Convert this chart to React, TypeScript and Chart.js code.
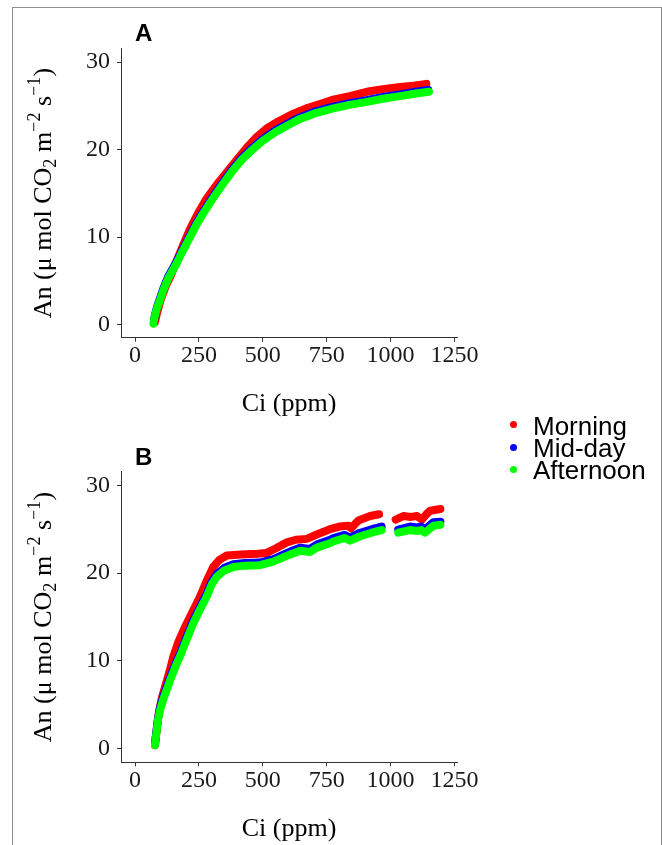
import React, { useEffect, useRef } from "react";
import { Chart, registerables } from "chart.js";

Chart.register(...registerables);

// ---- axis ticks ----
const xTicks = [0, 250, 500, 750, 1000, 1250];
const yTicks = [0, 10, 20, 30];

// ---- legend ----
const seriesNames = ["Morning", "Mid-day", "Afternoon"];
const seriesColors = ["#ff0000", "#0000ff", "#00ff00"];

// ---- Panel A ----
const aCiMorning = [78, 85, 100, 120, 140, 163, 190, 215, 250, 280, 320, 359, 400, 437, 475, 515, 560, 620, 670, 724, 776, 840, 907, 970, 1037, 1090, 1140];
const aAnMorning = [0.3, 1.2, 2.8, 4.4, 5.6, 7.3, 9.2, 10.9, 12.9, 14.4, 16.0, 17.4, 18.9, 20.2, 21.4, 22.4, 23.2, 24.1, 24.7, 25.2, 25.7, 26.1, 26.6, 26.9, 27.15, 27.3, 27.5];

const aCiMidday = [74, 77, 86, 100, 111, 130, 163, 190, 215, 240, 267, 300, 340, 380, 420, 460, 500, 550, 600, 646, 700, 776, 840, 907, 970, 1037, 1100, 1148];
const aAnMidday = [0.3, 1.0, 2.0, 3.2, 4.15, 5.5, 7.2, 8.8, 10.2, 11.6, 12.9, 14.4, 16.1, 17.7, 19.1, 20.2, 21.2, 22.2, 23.0, 23.7, 24.3, 24.9, 25.3, 25.65, 26.0, 26.3, 26.6, 26.8];

const aCiAfternoon = [72, 76, 85, 100, 111, 130, 163, 190, 215, 240, 267, 300, 340, 380, 420, 460, 500, 550, 600, 646, 700, 776, 840, 907, 970, 1037, 1100, 1150];
const aAnAfternoon = [0.1, 0.8, 1.8, 3.0, 3.96, 5.3, 7.0, 8.6, 10.0, 11.4, 12.7, 14.2, 15.9, 17.5, 18.9, 20.0, 21.0, 22.0, 22.8, 23.5, 24.1, 24.7, 25.1, 25.45, 25.8, 26.1, 26.4, 26.6];

// ---- Panel B ----
const bCiMorning = [78, 82, 88, 95, 105, 120, 135, 150, 170, 196, 225, 254, 280, 306, 330, 359, 400, 437, 480, 515, 550, 594, 630, 672, 711, 763, 800, 835, 845, 874, 920, 955, 985, 1020, 1050, 1080, 1103, 1122, 1140, 1155, 1195];
const bAnMorning = [0.4, 1.5, 3.0, 4.4, 5.8, 7.3, 8.8, 10.5, 12.2, 13.9, 15.6, 17.3, 19.1, 20.7, 21.5, 22.0, 22.1, 22.15, 22.2, 22.3, 22.8, 23.5, 23.8, 23.9, 24.4, 25.0, 25.3, 25.4, 25.1, 26.0, 26.5, 26.7, null, 26.1, 26.5, 26.4, 26.5, 26.1, 26.7, 27.1, 27.3];

const bCiMidday = [78, 81, 85, 90, 98, 110, 124, 140, 163, 176, 196, 228, 255, 280, 300, 320, 350, 385, 430, 489, 541, 580, 620, 646, 685, 711, 763, 776, 820, 841, 881, 926, 965, 995, 1030, 1076, 1103, 1120, 1135, 1168, 1195];
const bAnMidday = [0.5, 1.4, 2.3, 3.5, 4.7, 5.9, 7.0, 8.3, 10.0, 10.8, 12.3, 14.6, 16.2, 17.6, 19.0, 19.9, 20.6, 21.0, 21.15, 21.2, 21.6, 22.1, 22.6, 22.9, 22.75, 23.25, 23.8, 24.0, 24.35, 24.05, 24.6, 25.0, 25.3, null, 24.95, 25.3, 25.2, 25.3, 25.0, 25.8, 25.85];

const bCiAfternoon = [78, 81, 85, 90, 98, 110, 124, 140, 163, 176, 196, 228, 255, 280, 300, 320, 350, 385, 430, 489, 541, 580, 620, 646, 685, 711, 763, 776, 820, 841, 881, 926, 965, 995, 1030, 1076, 1103, 1120, 1135, 1168, 1195];
const bAnAfternoon = [0.4, 1.2, 2.1, 3.3, 4.4, 5.6, 6.7, 8.0, 9.7, 10.5, 12.0, 14.3, 15.9, 17.3, 18.7, 19.6, 20.3, 20.7, 20.85, 20.9, 21.3, 21.8, 22.25, 22.55, 22.4, 22.9, 23.4, 23.6, 24.0, 23.7, 24.2, 24.6, 24.9, null, 24.6, 24.9, 24.8, 24.9, 24.6, 25.4, 25.5];

const SERIF = "'Liberation Serif', 'Times New Roman', serif";
const SANS = "'Liberation Sans', Arial, sans-serif";

type PanelProps = {
  top: number;
  height: number;
  chartTop: number;
  chartBottom: number;
  yMin: number;
  yMax: number;
  ci: number[][];
  an: (number | null)[][];
};

function Panel({ top, height, chartTop, chartBottom, yMin, yMax, ci, an }: PanelProps) {
  const ref = useRef<HTMLCanvasElement | null>(null);
  useEffect(() => {
    if (!ref.current) return;
    const datasets = seriesNames.map((name, i) => ({
      label: name,
      data: ci[i].map((x, j) => ({ x, y: an[i][j] })),
      showLine: true,
      borderColor: seriesColors[i],
      backgroundColor: seriesColors[i],
      borderWidth: 8,
      borderCapStyle: "round" as const,
      borderJoinStyle: "round" as const,
      pointRadius: 0,
      spanGaps: false,
      order: 3 - i,
    }));
    const axisColor = "#333333";
    const chart = new Chart(ref.current, {
      type: "scatter",
      data: { datasets },
      options: {
        animation: false,
        responsive: false,
        events: [],
        layout: { padding: { top: chartTop - top, right: 662 - 457, bottom: 0, left: 0 } },
        plugins: { legend: { display: false }, tooltip: { enabled: false } },
        scales: {
          x: {
            type: "linear",
            min: -55,
            max: 1260,
            afterBuildTicks: (s: any) => {
              s.ticks = xTicks.map((v) => ({ value: v }));
            },
            afterFit: (s: any) => {
              s.height = top + height - chartBottom;
            },
            grid: { display: true, drawOnChartArea: false, tickLength: 4, color: axisColor, tickWidth: 1 },
            border: { display: true, color: axisColor, width: 1 },
            ticks: {
              autoSkip: false,
              maxRotation: 0,
              padding: 0,
              color: "#1a1a1a",
              font: { family: SERIF, size: 24 },
              callback: (v: any) => String(v),
            },
            title: {
              display: true,
              text: "Ci (ppm)",
              color: "#000000",
              font: { family: SERIF, size: 26 },
              padding: { top: 0, bottom: 0 },
            },
          },
          y: {
            type: "linear",
            min: yMin,
            max: yMax,
            afterBuildTicks: (s: any) => {
              s.ticks = yTicks.map((v) => ({ value: v }));
            },
            afterFit: (s: any) => {
              s.width = 121;
            },
            grid: { display: true, drawOnChartArea: false, tickLength: 4, color: axisColor, tickWidth: 1 },
            border: { display: true, color: axisColor, width: 1 },
            ticks: {
              padding: 7,
              color: "#1a1a1a",
              font: { family: SERIF, size: 24 },
              callback: (v: any) => String(v),
            },
          },
        },
      },
    });
    return () => chart.destroy();
  }, []);
  return (
    <canvas
      ref={ref}
      width={662}
      height={height}
      style={{ position: "absolute", left: 0, top, width: 662, height }}
    />
  );
}

function YTitle({ cy }: { cy: number }) {
  const cx = 43;
  const sup = { fontSize: "0.7em", position: "relative" as const, top: "-0.6em" };
  const sub = { fontSize: "0.7em", position: "relative" as const, top: "0.3em" };
  return (
    <div
      style={{
        position: "absolute",
        left: cx - 160,
        top: cy - 16,
        width: 320,
        height: 32,
        lineHeight: "32px",
        textAlign: "center",
        transform: "rotate(-90deg)",
        fontFamily: SERIF,
        fontSize: 26,
        color: "#000",
        whiteSpace: "nowrap",
      }}
    >
      An (μ mol CO<span style={sub}>2</span> m<span style={sup}>−2</span> s<span style={sup}>−1</span>)
    </div>
  );
}

export default function App() {
  const legendBaselines = [435, 457, 479];
  const dotY = [424.3, 447, 469.3];
  return (
    <div
      style={{
        position: "absolute",
        left: 0,
        top: 0,
        width: 662,
        height: 845,
        overflow: "hidden",
        background: "#ffffff",
      }}
    >
      <div
        style={{
          position: "absolute",
          left: 12,
          top: 7,
          width: 648,
          height: 900,
          border: "1px solid #8f8f8f",
        }}
      />
      <Panel
        top={0}
        height={420}
        chartTop={48}
        chartBottom={337.7}
        yMin={-1.5}
        yMax={31.6}
        ci={[aCiMorning, aCiMidday, aCiAfternoon]}
        an={[aAnMorning, aAnMidday, aAnAfternoon]}
      />
      <Panel
        top={425}
        height={420}
        chartTop={471.7}
        chartBottom={762.3}
        yMin={-1.55}
        yMax={31.55}
        ci={[bCiMorning, bCiMidday, bCiAfternoon]}
        an={[bAnMorning, bAnMidday, bAnAfternoon]}
      />
      <YTitle cy={192.5} />
      <YTitle cy={617} />
      <div
        style={{
          position: "absolute",
          left: 135,
          top: 20.7,
          fontFamily: SANS,
          fontWeight: "bold",
          fontSize: 24,
          lineHeight: "24px",
          color: "#000",
        }}
      >
        A
      </div>
      <div
        style={{
          position: "absolute",
          left: 135,
          top: 445.4,
          fontFamily: SANS,
          fontWeight: "bold",
          fontSize: 24,
          lineHeight: "24px",
          color: "#000",
        }}
      >
        B
      </div>
      {seriesNames.map((name, i) => (
        <React.Fragment key={name}>
          <div
            style={{
              position: "absolute",
              left: 513.3 - 3.5,
              top: dotY[i] - 3.5,
              width: 7,
              height: 7,
              borderRadius: "50%",
              background: seriesColors[i],
            }}
          />
          <div
            style={{
              position: "absolute",
              left: 533,
              top: legendBaselines[i] - 20,
              fontFamily: SANS,
              fontSize: 26,
              lineHeight: "22px",
              color: "#000",
              whiteSpace: "nowrap",
            }}
          >
            {name}
          </div>
        </React.Fragment>
      ))}
    </div>
  );
}
